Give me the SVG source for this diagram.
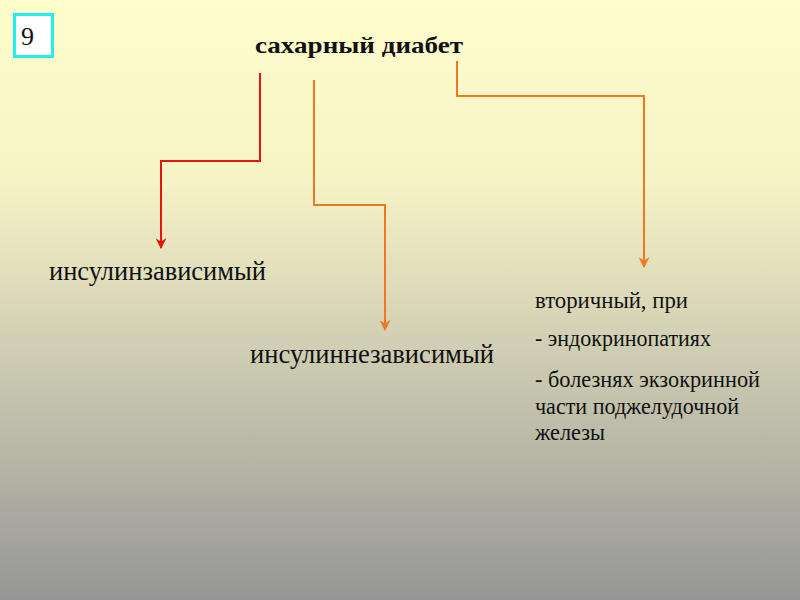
<svg xmlns="http://www.w3.org/2000/svg" width="800" height="600" viewBox="0 0 800 600">
<defs>
<linearGradient id="bg" x1="0" y1="0" x2="0" y2="1">
<stop offset="0" stop-color="#FFFDCC"/>
<stop offset="0.3" stop-color="#F6F3C6"/>
<stop offset="1" stop-color="#969696"/>
</linearGradient>
<marker id="arRed" viewBox="0 0 10 10" refX="9" refY="5" markerWidth="11" markerHeight="11" orient="auto" markerUnits="userSpaceOnUse">
<path d="M0,0 L10,5 L0,10 L3,5 Z" fill="#E8150F"/>
</marker>
<marker id="arOr" viewBox="0 0 10 10" refX="9" refY="5" markerWidth="11" markerHeight="11" orient="auto" markerUnits="userSpaceOnUse">
<path d="M0,0 L10,5 L0,10 L3,5 Z" fill="#F07820"/>
</marker>
</defs>
<style>
.t{font-family:"Liberation Serif","Times New Roman",serif;fill:#111;}
.red{fill:none;stroke:#E8150F;stroke-width:2;marker-end:url(#arRed);}
.or{fill:none;stroke:#F07820;stroke-width:2;marker-end:url(#arOr);}
</style>
<rect width="800" height="600" fill="url(#bg)"/>
<g id="num">
<rect x="14.5" y="14.5" width="38" height="42" fill="#FFFFFF" stroke="#22EEEE" stroke-width="3"/>
<text class="t" x="21" y="45" font-size="26">9</text>
</g>
<g id="root">
<text class="t" x="255" y="53" font-size="23" font-weight="bold" textLength="208" lengthAdjust="spacingAndGlyphs">сахарный диабет</text>
</g>
<g id="connectors">
<polyline class="red" points="260,73 260,161 161,161 161,248"/>
<polyline class="or" points="314,80 314,205 385,205 385,330"/>
<polyline class="or" points="457,61 457,96 644,96 644,267"/>
</g>
<g id="n1">
<text class="t" x="49" y="280" font-size="26.5" textLength="217" lengthAdjust="spacingAndGlyphs">инсулинзависимый</text>
</g>
<g id="n2">
<text class="t" x="250" y="363" font-size="26.5" textLength="244" lengthAdjust="spacingAndGlyphs">инсулиннезависимый</text>
</g>
<g id="n3">
<text class="t" font-size="24" lengthAdjust="spacingAndGlyphs">
<tspan x="535" y="308" textLength="153" lengthAdjust="spacingAndGlyphs">вторичный, при</tspan>
<tspan x="535" y="346" textLength="176" lengthAdjust="spacingAndGlyphs">- эндокринопатиях</tspan>
<tspan x="535" y="387" textLength="225" lengthAdjust="spacingAndGlyphs">- болезнях экзокринной</tspan>
<tspan x="535" y="414" textLength="204" lengthAdjust="spacingAndGlyphs">части поджелудочной</tspan>
<tspan x="535" y="440" textLength="70" lengthAdjust="spacingAndGlyphs">железы</tspan>
</text>
</g>
</svg>
